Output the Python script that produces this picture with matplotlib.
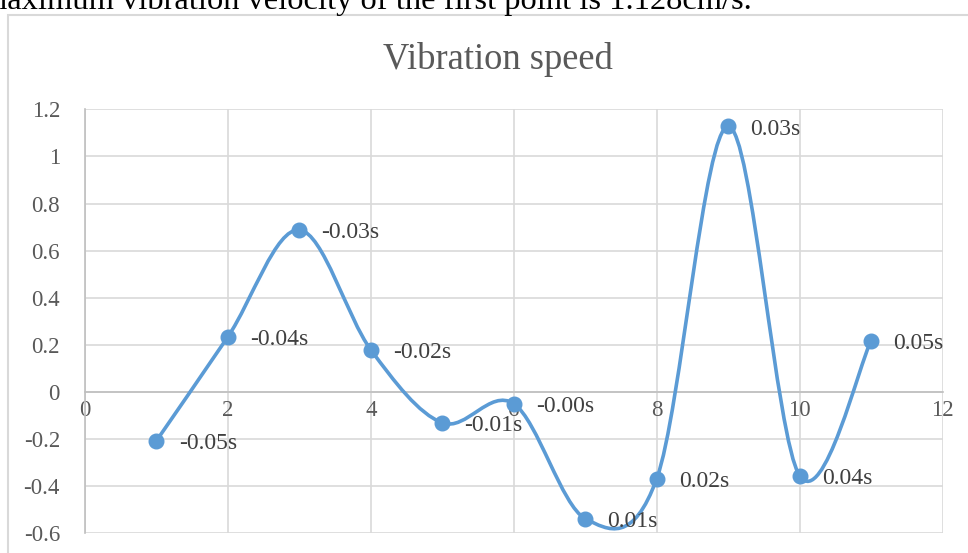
import numpy as np
import matplotlib
matplotlib.use('Agg')
import matplotlib.pyplot as plt
from matplotlib.path import Path
from matplotlib.patches import PathPatch, Rectangle

plt.rcParams['font.family'] = ['Liberation Serif', 'DejaVu Serif']

# data
x_vals = [1, 2, 3, 4, 5, 6, 7, 8, 9, 10, 11]
speed = [-0.208, 0.234, 0.688, 0.178, -0.132, -0.051, -0.539, -0.369, 1.128, -0.357, 0.217]
times = ['-0.05s', '-0.04s', '-0.03s', '-0.02s', '-0.01s', '-0.00s',
         '0.01s', '0.02s', '0.03s', '0.04s', '0.05s']
x_ticks = [0, 2, 4, 6, 8, 10, 12]
y_ticks = [-0.6, -0.4, -0.2, 0, 0.2, 0.4, 0.6, 0.8, 1, 1.2]
y_tick_labels = ['-0.6', '-0.4', '-0.2', '0', '0.2', '0.4', '0.6', '0.8', '1', '1.2']

blue = '#5b9bd5'
grey_text = '#595959'

fig = plt.figure(figsize=(9.68, 5.53), dpi=100)
ax = fig.add_axes([0.0878, 0.0362, 0.886, 0.766])

# smoothed line like Excel (cubic bezier, catmull-rom style)
px = np.array(x_vals, dtype=float)
py = np.array(speed, dtype=float)
n = len(px)
verts = [(px[0], py[0])]
codes = [Path.MOVETO]
for i in range(n - 1):
    i0 = max(i - 1, 0)
    i3 = min(i + 2, n - 1)
    c1 = (px[i] + (px[i + 1] - px[i0]) / 6, py[i] + (py[i + 1] - py[i0]) / 6)
    c2 = (px[i + 1] - (px[i3] - px[i]) / 6, py[i + 1] - (py[i3] - py[i]) / 6)
    verts += [c1, c2, (px[i + 1], py[i + 1])]
    codes += [Path.CURVE4] * 3
ax.add_patch(PathPatch(Path(verts, codes), facecolor='none', edgecolor=blue, lw=2.6, zorder=3))
ax.plot(x_vals, speed, 'o', color=blue, markersize=10.5, zorder=4)

for xv, yv, t in zip(x_vals, speed, times):
    ax.annotate(t, (xv, yv), xytext=(16, -2), textcoords='offset points',
                va='center', ha='left', fontsize=17, color='#404040', zorder=5)

ax.set_xlim(0, 12)
ax.set_ylim(-0.6, 1.2)
ax.set_xticks(x_ticks)
ax.set_yticks(y_ticks)
ax.set_yticklabels(y_tick_labels)
ax.grid(True, color='#d9d9d9', lw=1.2)
ax.set_axisbelow(True)
for s in ['top', 'right']:
    ax.spines[s].set_visible(False)
ax.spines['bottom'].set_position(('data', 0))
ax.spines['bottom'].set_color('#bfbfbf')
ax.spines['left'].set_color('#bfbfbf')
ax.spines['bottom'].set_linewidth(1.2)
ax.spines['left'].set_linewidth(1.2)
ax.tick_params(length=0, labelsize=16.5, labelcolor=grey_text)
ax.tick_params(axis='x', pad=6)
ax.tick_params(axis='y', pad=18)

fig.text(0.5145, 0.893, 'Vibration speed', ha='center', va='center', fontsize=26.3, color=grey_text)

# chart frame and the clipped sentence above it
fig.patches.append(Rectangle((0.0083, -0.05), 1.1, 1.023, transform=fig.transFigure,
                             facecolor='none', edgecolor='#d9d9d9', lw=1.5, clip_on=False))
fig.text(-0.019, 0.983, 'maximum vibration velocity of the first point is 1.128cm/s.',
         ha='left', va='baseline', fontsize=23.4, color='black')

fig.savefig('out.png', dpi=100)
